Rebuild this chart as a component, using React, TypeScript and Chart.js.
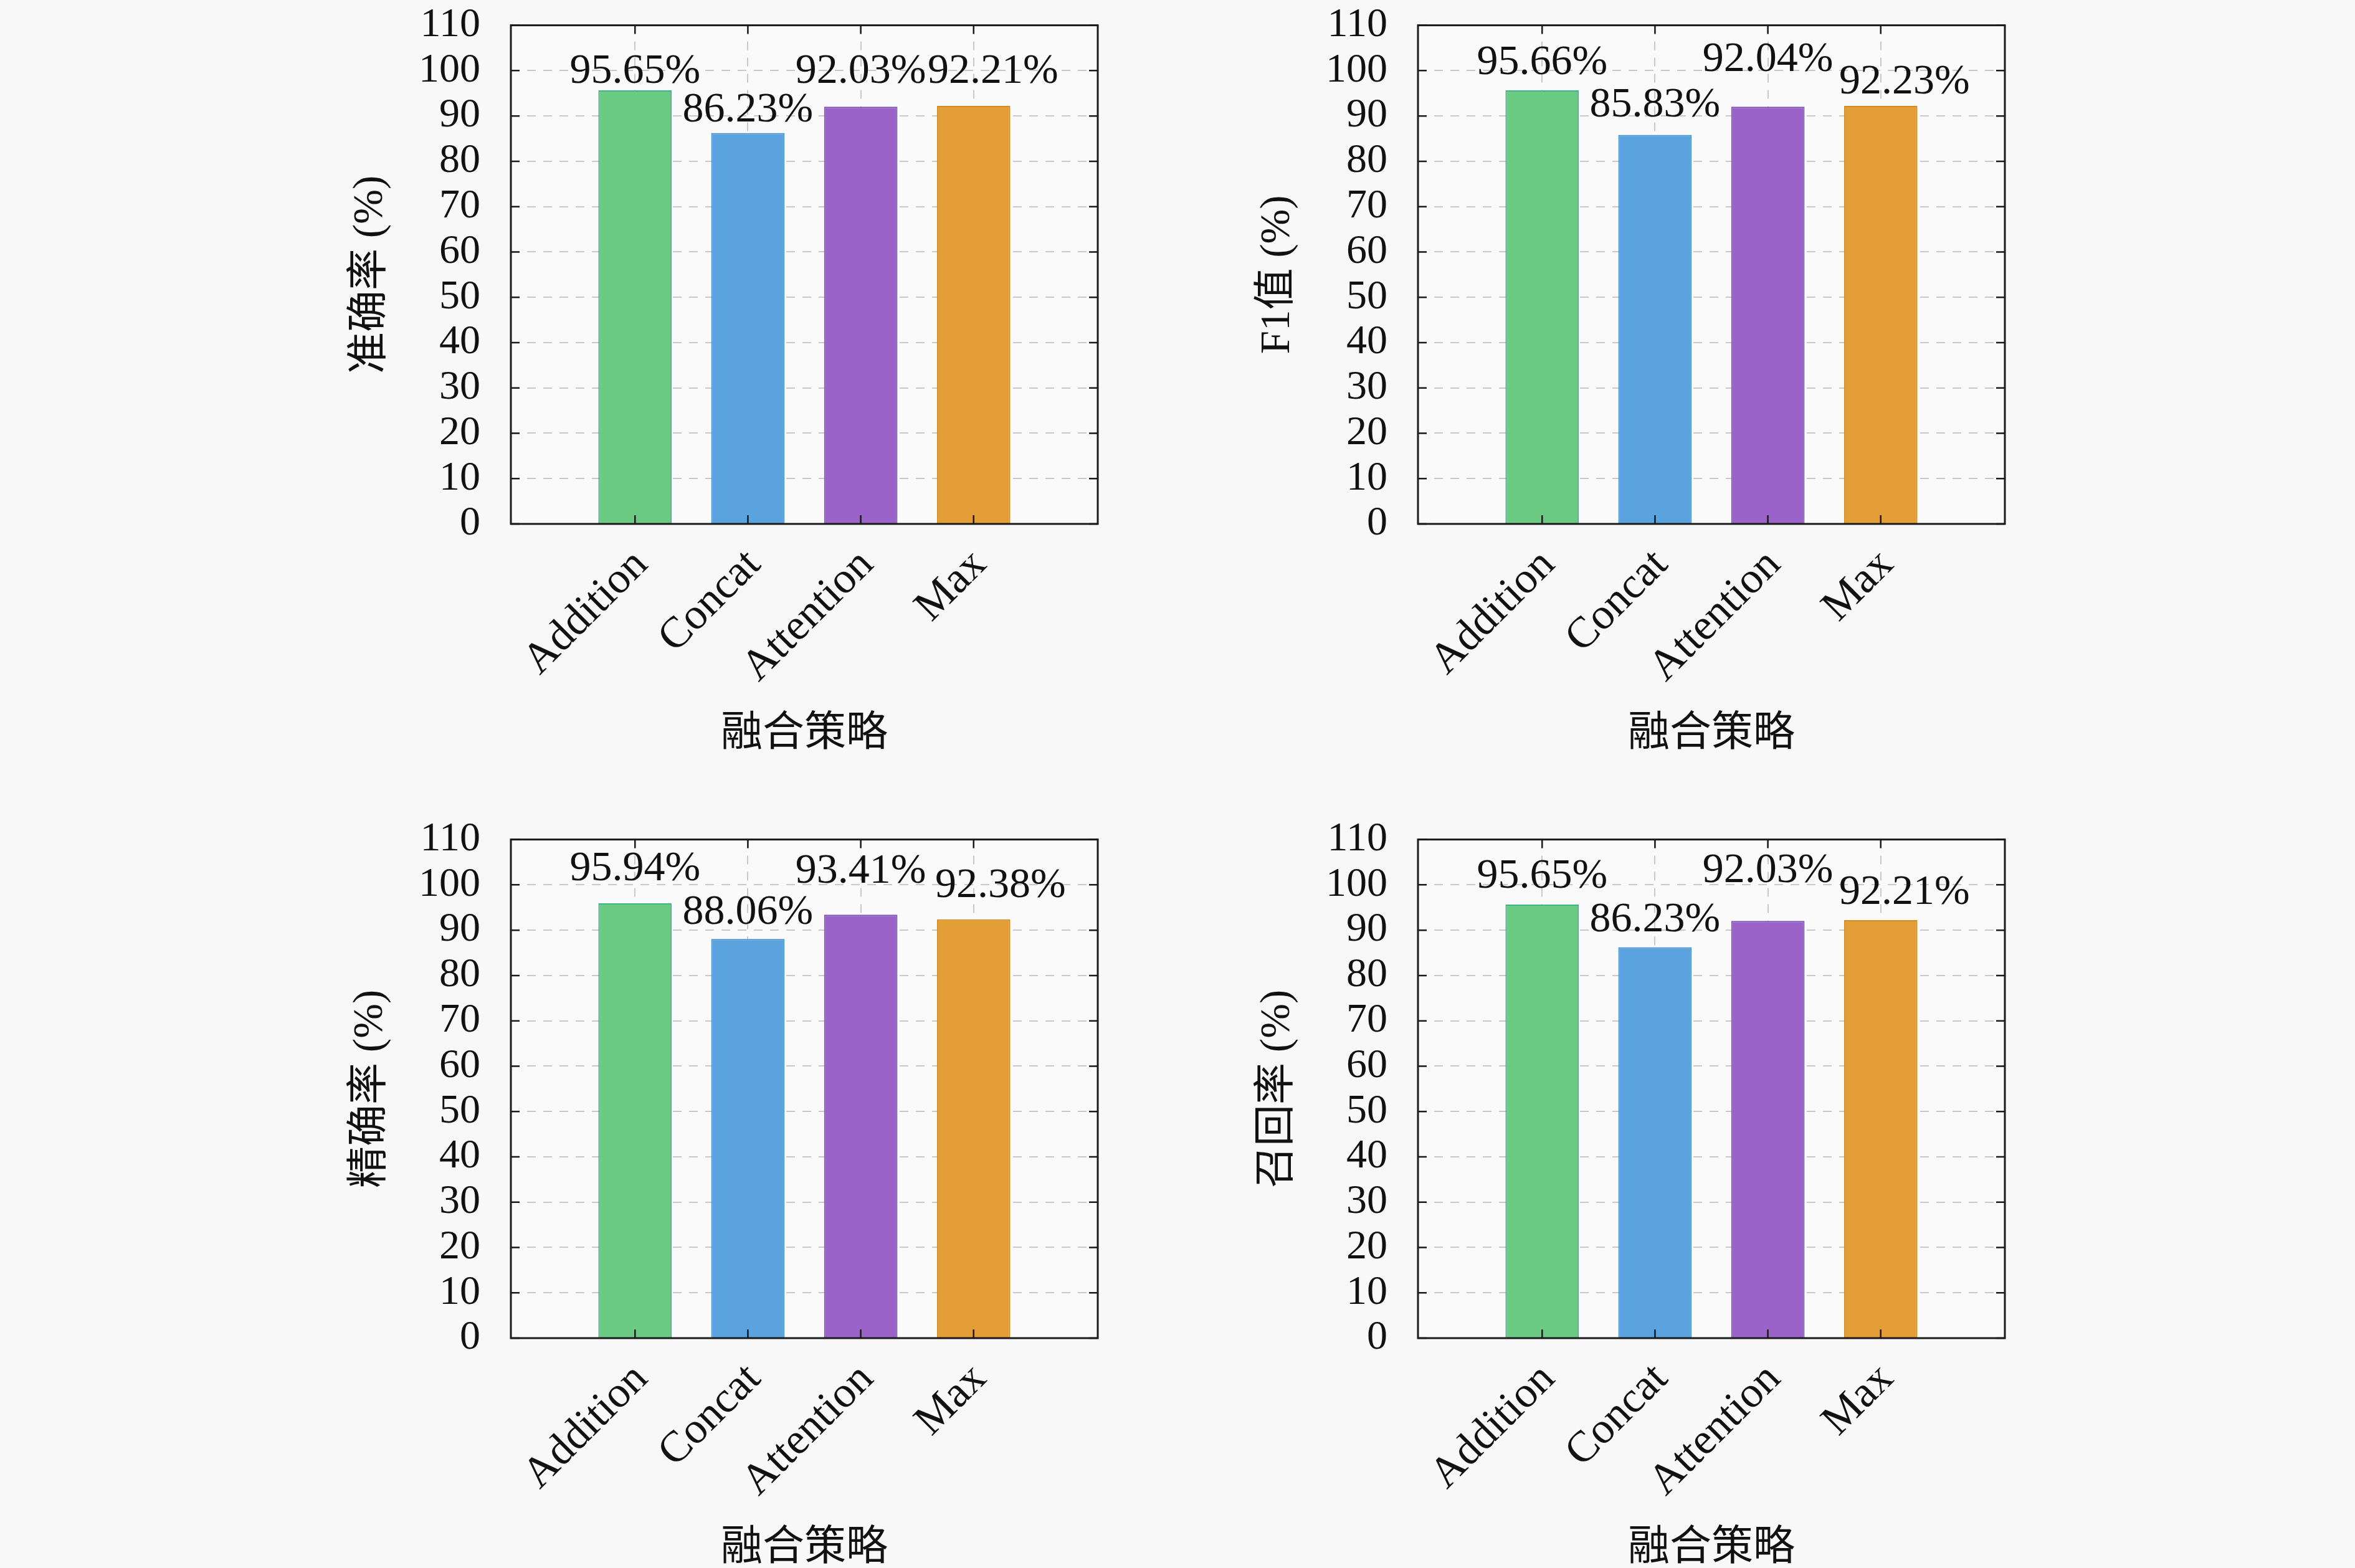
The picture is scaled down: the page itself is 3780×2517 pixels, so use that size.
import React, { useEffect, useRef } from 'react';
import Chart from 'chart.js/auto';

// four panels, same categories
const categories = ['Addition', 'Concat', 'Attention', 'Max'];
const accuracy = [95.65, 86.23, 92.03, 92.21];
const f1Score = [95.66, 85.83, 92.04, 92.23];
const precision = [95.94, 88.06, 93.41, 92.38];
const recall = [95.65, 86.23, 92.03, 92.21];
const yTicks = [0, 10, 20, 30, 40, 50, 60, 70, 80, 90, 100, 110];
const xTitle = '融合策略';

// where the value labels sit (in axis units)
const accLabelY = [99.7, 91.3, 99.7, 99.7];
const f1LabelY = [101.7, 92.4, 102.3, 97.4];
const precLabelY = [103.5, 93.8, 102.9, 99.7];
const recLabelY = [101.8, 92.2, 103.1, 98.3];

const fills = ['#6bcb82', '#5aa3df', '#9b63ca', '#e39e38'];
const edges = ['#3db58a', '#4a90c8', '#7a55b8', '#d08a20'];

const FONT = "'Liberation Serif', 'Noto Sans CJK SC', serif";
const CANVAS_W = 1300;
const CANVAS_H = 1288;
// chart.js keeps ~48px above the plot for the y tick labels, so the canvas starts above the page
const SHIFT = 48;

type PanelProps = {
    values: number[];
    labelY: number[];
    labelDx: number[];
    yTitle: string;
    left: number;
    top: number;
};

const framePlugin = {
    id: 'frame',
    beforeDraw(chart: any) {
        const { ctx, chartArea: a } = chart;
        ctx.save();
        ctx.fillStyle = '#fafafa';
        ctx.fillRect(a.left, a.top, a.right - a.left, a.bottom - a.top);
        ctx.restore();
    },
    afterDatasetsDraw(chart: any) {
        const { ctx, chartArea: a, scales } = chart;
        ctx.save();
        ctx.strokeStyle = '#1a1a1a';
        ctx.lineWidth = 2.5;
        const len = 14;
        ctx.beginPath();
        scales.y.ticks.forEach((t: any) => {
            const py = scales.y.getPixelForValue(t.value);
            ctx.moveTo(a.left, py);
            ctx.lineTo(a.left + len, py);
            ctx.moveTo(a.right, py);
            ctx.lineTo(a.right - len, py);
        });
        scales.x.ticks.forEach((t: any) => {
            const px = scales.x.getPixelForValue(t.value);
            ctx.moveTo(px, a.bottom);
            ctx.lineTo(px, a.bottom - len);
            ctx.moveTo(px, a.top);
            ctx.lineTo(px, a.top + len);
        });
        ctx.stroke();
        ctx.lineWidth = 3;
        ctx.strokeRect(a.left, a.top, a.right - a.left, a.bottom - a.top);
        ctx.restore();
    },
};

const labelPlugin = {
    id: 'valueLabels',
    afterDraw(chart: any) {
        const { ctx, scales } = chart;
        const opts = chart.options.plugins.valueLabels;
        const meta = chart.getDatasetMeta(0);
        ctx.save();
        ctx.fillStyle = '#111';
        ctx.font = `68px ${FONT}`;
        ctx.textAlign = 'center';
        ctx.textBaseline = 'middle';
        meta.data.forEach((bar: any, i: number) => {
            const v = chart.data.datasets[0].data[i].y;
            const y = scales.y.getPixelForValue(opts.labelY[i]);
            ctx.fillText(v.toFixed(2) + '%', bar.x + opts.labelDx[i], y);
        });
        ctx.restore();
    },
};

const Panel = ({ values, labelY, labelDx, yTitle, left, top }: PanelProps) => {
    const chartRef = useRef<HTMLCanvasElement>(null);

    useEffect(() => {
        const grid = {
            color: '#c9c9c9',
            lineWidth: 2,
            drawTicks: false,
            offset: false,
        };

        const chartInstance = new Chart(chartRef.current as HTMLCanvasElement, {
            type: 'bar',
            data: {
                datasets: [{
                    data: values.map((v, i) => ({ x: i, y: v })),
                    backgroundColor: fills,
                    borderColor: edges,
                    borderWidth: 2,
                    barPercentage: 0.65,
                    categoryPercentage: 1,
                }],
            },
            plugins: [framePlugin, labelPlugin],
            options: {
                animation: false,
                responsive: false,
                devicePixelRatio: 1,
                layout: { padding: { top: 36, right: 38, bottom: 0, left: 0 } },
                plugins: {
                    legend: { display: false },
                    tooltip: { enabled: false },
                    valueLabels: { labelY, labelDx },
                } as any,
                scales: {
                    x: {
                        type: 'linear',
                        min: -1.1,
                        max: 4.1,
                        offset: false,
                        afterBuildTicks: (scale: any) => {
                            scale.ticks = categories.map((_, i) => ({ value: i }));
                        },
                        afterFit: (scale: any) => {
                            scale.height = 399;
                        },
                        grid: { ...grid, borderDash: [14, 12] } as any,
                        border: { display: false, dash: [14, 12] },
                        ticks: {
                            autoSkip: false,
                            color: '#111',
                            font: { family: FONT, size: 70 },
                            minRotation: 45,
                            maxRotation: 45,
                            padding: 25,
                            labelOffset: 10,
                            callback: (v: any) => categories[v] ?? '',
                        },
                        title: {
                            display: true,
                            text: xTitle,
                            color: '#111',
                            font: { family: FONT, size: 67 },
                            padding: { top: 0, bottom: 20 },
                        },
                    },
                    y: {
                        min: 0,
                        max: 110,
                        afterBuildTicks: (scale: any) => {
                            scale.ticks = yTicks.map((v) => ({ value: v }));
                        },
                        afterFit: (scale: any) => {
                            scale.width = 320;
                        },
                        grid: grid,
                        border: { display: false, dash: [14, 12] },
                        ticks: {
                            autoSkip: false,
                            color: '#111',
                            font: { family: FONT, size: 66 },
                            padding: 49,
                        },
                        title: {
                            display: true,
                            text: yTitle,
                            color: '#111',
                            font: { family: FONT, size: 67 },
                            padding: { top: 55, bottom: 0 },
                        },
                    },
                },
            },
        });

        return () => {
            chartInstance.destroy();
        };
    }, []);

    return (
        <canvas
            ref={chartRef}
            width={CANVAS_W}
            height={CANVAS_H}
            style={{ position: 'absolute', left, top: top - SHIFT, width: CANVAS_W, height: CANVAS_H }}
        />
    );
};

const App = () => {
    return (
        <div
            style={{
                position: 'fixed',
                left: 0,
                top: 0,
                width: 3780,
                height: 2517,
                overflow: 'hidden',
                background: '#f8f8f8',
            }}
        >
            <Panel values={accuracy} labelY={accLabelY} labelDx={[0, 0, 0, 31]} yTitle="准确率 (%)" left={500} top={0} />
            <Panel values={f1Score} labelY={f1LabelY} labelDx={[0, 0, 0, 38]} yTitle="F1值 (%)" left={1956} top={0} />
            <Panel values={precision} labelY={precLabelY} labelDx={[0, 0, 0, 43]} yTitle="精确率 (%)" left={500} top={1307} />
            <Panel values={recall} labelY={recLabelY} labelDx={[0, 0, 0, 38]} yTitle="召回率 (%)" left={1956} top={1307} />
        </div>
    );
};

export default App;
